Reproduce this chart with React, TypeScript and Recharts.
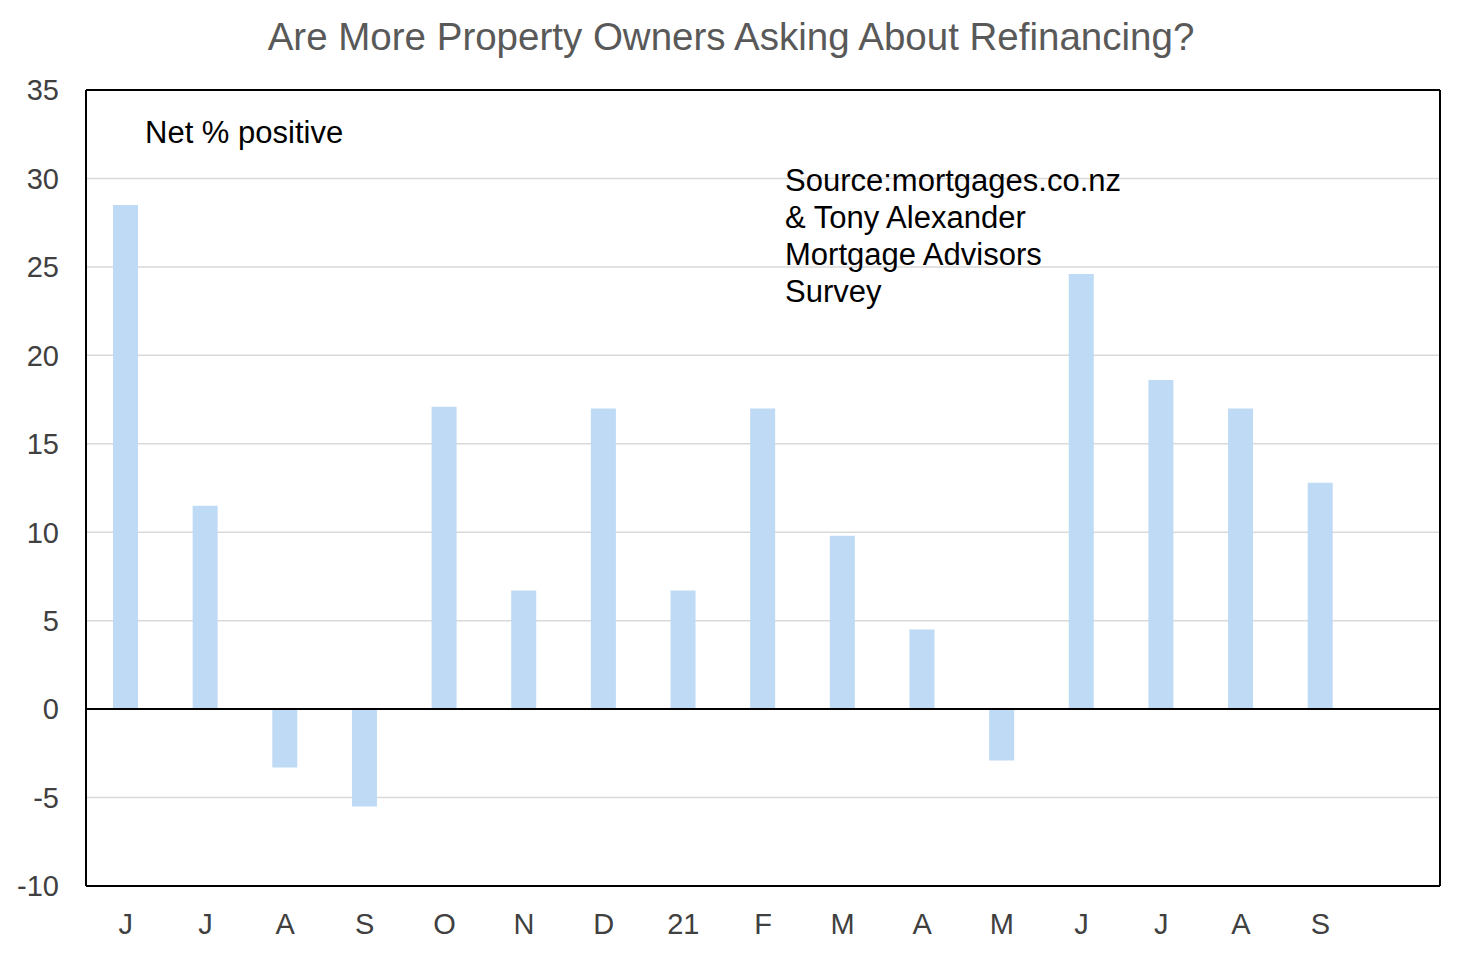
import { BarChart, Bar, XAxis, YAxis, CartesianGrid, ReferenceLine } from "recharts"

const months = ["J", "J", "A", "S", "O", "N", "D", "21", "F", "M", "A", "M", "J", "J", "A", "S", ""]
const netPositive = [28.5, 11.5, -3.3, -5.5, 17.1, 6.7, 17.0, 6.7, 17.0, 9.8, 4.5, -2.9, 24.6, 18.6, 17.0, 12.8, null]
const yTicks = [-10, -5, 0, 5, 10, 15, 20, 25, 30, 35]
const sourceLines = ["Source:mortgages.co.nz", "& Tony Alexander", "Mortgage Advisors", "Survey"]

const data = months.map((m, i) => ({ idx: i, month: m, value: netPositive[i] }))

const font = "'Liberation Sans', Arial, sans-serif"
const tickStyle = { fontSize: 29, fill: "#404040", fontFamily: font }

export default function App() {
  return (
    <div style={{ position: "relative", width: 1462, height: 954, background: "#fff", fontFamily: font }}>
      <style>{"body{margin:0}"}</style>
      <div
        style={{
          position: "absolute",
          top: 15,
          left: 0,
          width: 1462,
          textAlign: "center",
          fontSize: 38.5,
          color: "#595959",
        }}
      >
        Are More Property Owners Asking About Refinancing?
      </div>
      <BarChart
        width={1462}
        height={954}
        data={data}
        margin={{ top: 90, right: 22, bottom: 0, left: 10 }}
        barCategoryGap={0}
      >
        <CartesianGrid vertical={false} stroke="#d9d9d9" strokeWidth={1.5} />
        {/* plot frame: top and right edges */}
        <CartesianGrid horizontalPoints={[90]} verticalPoints={[1440]} stroke="#000" strokeWidth={2} />
        <XAxis
          dataKey="idx"
          tickFormatter={(i) => months[i]}
          interval={0}
          tick={tickStyle}
          tickLine={false}
          tickMargin={21}
          height={68}
          axisLine={{ stroke: "#000", strokeWidth: 2 }}
        />
        <YAxis
          domain={[-10, 35]}
          ticks={yTicks}
          interval={0}
          tick={tickStyle}
          tickLine={false}
          tickMargin={21}
          width={76}
          axisLine={{ stroke: "#000", strokeWidth: 2 }}
        />
        <ReferenceLine y={0} stroke="#000" strokeWidth={2} />
        <Bar dataKey="value" fill="#BFDAF5" barSize={25} isAnimationActive={false} />
      </BarChart>
      <div style={{ position: "absolute", left: 145, top: 115, fontSize: 31, color: "#000" }}>Net % positive</div>
      <div style={{ position: "absolute", left: 785, top: 162, fontSize: 31, color: "#000", lineHeight: "37px" }}>
        {sourceLines.map((l) => (
          <div key={l}>{l}</div>
        ))}
      </div>
    </div>
  )
}
